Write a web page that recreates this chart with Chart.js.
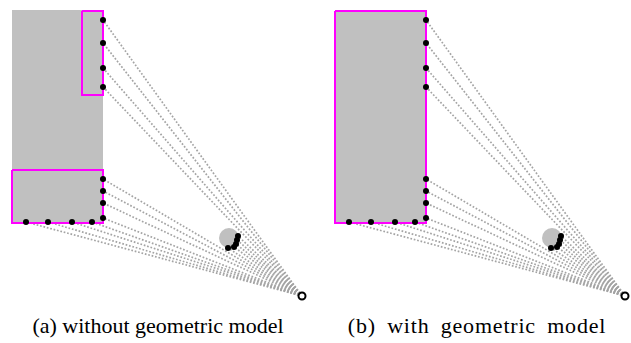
<!DOCTYPE html>
<html>
<head>
<meta charset="utf-8">
<script src="https://cdn.jsdelivr.net/npm/chart.js@4.4.0/dist/chart.umd.min.js"></script>
<style>
    body { margin: 0; background: #fff; width: 631px; height: 343px; position: relative; overflow: hidden; }
    canvas { position: absolute; top: 0; }
    .caption { position: absolute; top: 315px; font: 22px "Liberation Serif", "Times New Roman", serif; line-height: 22px; color: #000; white-space: nowrap; text-align: center; }
</style>
</head>
<body>
<canvas id="panel-a" width="316" height="310" style="left:0"></canvas>
<canvas id="panel-b" width="308" height="310" style="left:323px"></canvas>
<div class="caption" style="left:0; width:316px">(a) without geometric model</div>
<div class="caption" style="left:323px; width:308px; letter-spacing:0.8px; word-spacing:5px">(b) with geometric model</div>
<script>
// Escena (coordenadas locales de cada panel)
const wallX = [12, 103];          // pared gris: izquierda, derecha
const wallY = [10, 223];          // arriba, abajo
const edgeHitsY = [20, 43, 68, 87, 179, 191, 203, 218];   // impactos en el borde derecho
const bottomHitsX = [26, 48, 72, 92];                     // impactos en el borde inferior
const bottomY = 222;
const obstacle = [229, 238];       // obstáculo circular
const obstacleHitsX = [238, 237, 236, 234, 228];
const obstacleHitsY = [236, 240, 244, 247, 248];
const sensor = [302, 296];

// Cajas magenta de cada panel: [x0, y0, x1, y1]
const boxesA = [[82, 11, 103, 95], [12, 170, 103, 223]];
const boxesB = [[12, 11, 103, 223]];

const GRAY = '#c0c0c0';
const RAY = '#a4a4a4';
const MAGENTA = '#ff00ff';

function hitPoints() {
    const pts = edgeHitsY.map(y => ({x: wallX[1], y: y}));
    bottomHitsX.forEach(x => pts.push({x: x, y: bottomY}));
    obstacleHitsX.forEach((x, i) => pts.push({x: x, y: obstacleHitsY[i]}));
    return pts;
}

function buildDatasets(boxes) {
    const hits = hitPoints();
    const sets = [];

    // pared
    sets.push({
        data: [{x: wallX[0], y: wallY[0]}, {x: wallX[1], y: wallY[0]}],
        showLine: true,
        fill: {value: wallY[1]},
        backgroundColor: GRAY,
        borderColor: GRAY,
        borderWidth: 0,
        pointRadius: 0,
        order: 6
    });

    // rayos
    hits.forEach(p => {
        sets.push({
            data: [{x: sensor[0], y: sensor[1]}, p],
            showLine: true,
            borderColor: RAY,
            borderWidth: 1.7,
            borderDash: [1.7, 1.8],
            pointRadius: 0,
            fill: false,
            order: 4
        });
    });

    // obstáculo
    sets.push({
        data: [{x: obstacle[0], y: obstacle[1]}],
        showLine: false,
        pointRadius: 10,
        pointBackgroundColor: GRAY,
        pointBorderWidth: 0,
        order: 3
    });

    // cajas magenta
    boxes.forEach(b => {
        sets.push({
            data: [{x: b[0], y: b[1]}, {x: b[2], y: b[1]}, {x: b[2], y: b[3]}, {x: b[0], y: b[3]}, {x: b[0], y: b[1]}],
            showLine: true,
            borderColor: MAGENTA,
            borderWidth: 2,
            pointRadius: 0,
            fill: false,
            order: 2
        });
    });

    // impactos
    sets.push({
        data: hits,
        showLine: false,
        pointRadius: 3,
        pointBackgroundColor: '#000',
        pointBorderWidth: 0,
        order: 1
    });

    // sensor
    sets.push({
        data: [{x: sensor[0], y: sensor[1]}],
        showLine: false,
        pointRadius: 3.5,
        pointBackgroundColor: '#fff',
        pointBorderColor: '#000',
        pointBorderWidth: 2,
        order: 0
    });
    return sets;
}

function renderPanel(canvasId, boxes, width) {
    const ctx = document.getElementById(canvasId).getContext('2d');
    new Chart(ctx, {
        type: 'scatter',
        data: { datasets: buildDatasets(boxes).map(d => Object.assign({clip: false}, d)) },
        options: {
            responsive: false,
            animation: false,
            events: [],
            layout: { padding: 0, autoPadding: false },
            plugins: { legend: { display: false }, tooltip: { enabled: false } },
            scales: {
                x: { type: 'linear', min: 0, max: width, display: false },
                y: { type: 'linear', min: 0, max: 310, reverse: true, display: false }
            }
        }
    });
}

renderPanel('panel-a', boxesA, 316);
renderPanel('panel-b', boxesB, 308);
</script>
</body>
</html>
